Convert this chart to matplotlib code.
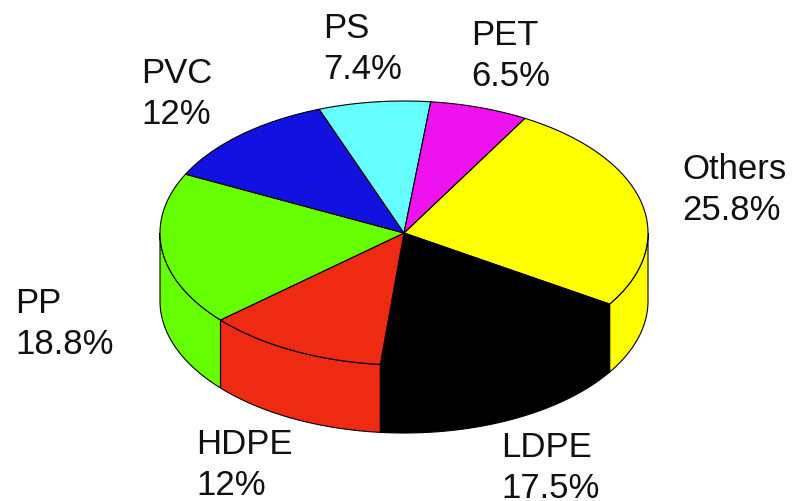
import numpy as np
import matplotlib
matplotlib.use("Agg")
import matplotlib.pyplot as plt
from matplotlib.patches import Polygon

plt.rcParams['font.family'] = ['Liberation Sans', 'DejaVu Sans']

# clockwise from the PET/Others edge
names = ["Others", "LDPE", "HDPE", "PP", "PVC", "PS", "PET"]
shares = [25.8, 17.5, 12, 18.8, 12, 7.4, 6.5]
share_labels = ["25.8%", "17.5%", "12%", "18.8%", "12%", "7.4%", "6.5%"]
colors = ["#FFFF00", "#000000", "#EE2A12", "#66FF00", "#1212E0", "#66FFFF", "#EE12EE"]
label_x = [682, 501, 196, 15, 141, 323, 471]
label_y = [190, 468, 465, 324, 94, 49, 56]

cx, cy = 404, 233
rx, ry = 244, 132
depth = 68
start = 60.3

fig = plt.figure(figsize=(7.94, 5.01), dpi=100)
ax = fig.add_axes([0, 0, 1, 1])
ax.set_xlim(0, 794)
ax.set_ylim(501, 0)
ax.axis("off")


def rim(a0, a1, dy=0):
    t = np.radians(np.linspace(a0, a1, 120))
    return np.column_stack([cx + rx * np.cos(t), cy + dy - ry * np.sin(t)])


edges = start - np.cumsum([0] + shares) * 3.6

# side walls, only the front half of the disc shows
for i in range(len(shares)):
    a0, a1 = edges[i], edges[i + 1]
    for k in (0, -360):
        lo, hi = max(a1 + k, -180), min(a0 + k, 0)
        if lo < hi:
            top = rim(hi, lo)
            low = rim(lo, hi, depth)
            ax.add_patch(Polygon(np.vstack([top, low]), closed=True, fc=colors[i], ec="black", lw=0.8))

# top face
for i in range(len(shares)):
    pts = np.vstack([[cx, cy], rim(edges[i], edges[i + 1])])
    ax.add_patch(Polygon(pts, closed=True, fc=colors[i], ec="black", lw=0.8))

for i in range(len(names)):
    ax.text(label_x[i], label_y[i], names[i] + "\n" + share_labels[i], fontsize=25,
            ha="left", va="center", linespacing=1.34, color="#111111")

fig.savefig("out.png", dpi=100)
